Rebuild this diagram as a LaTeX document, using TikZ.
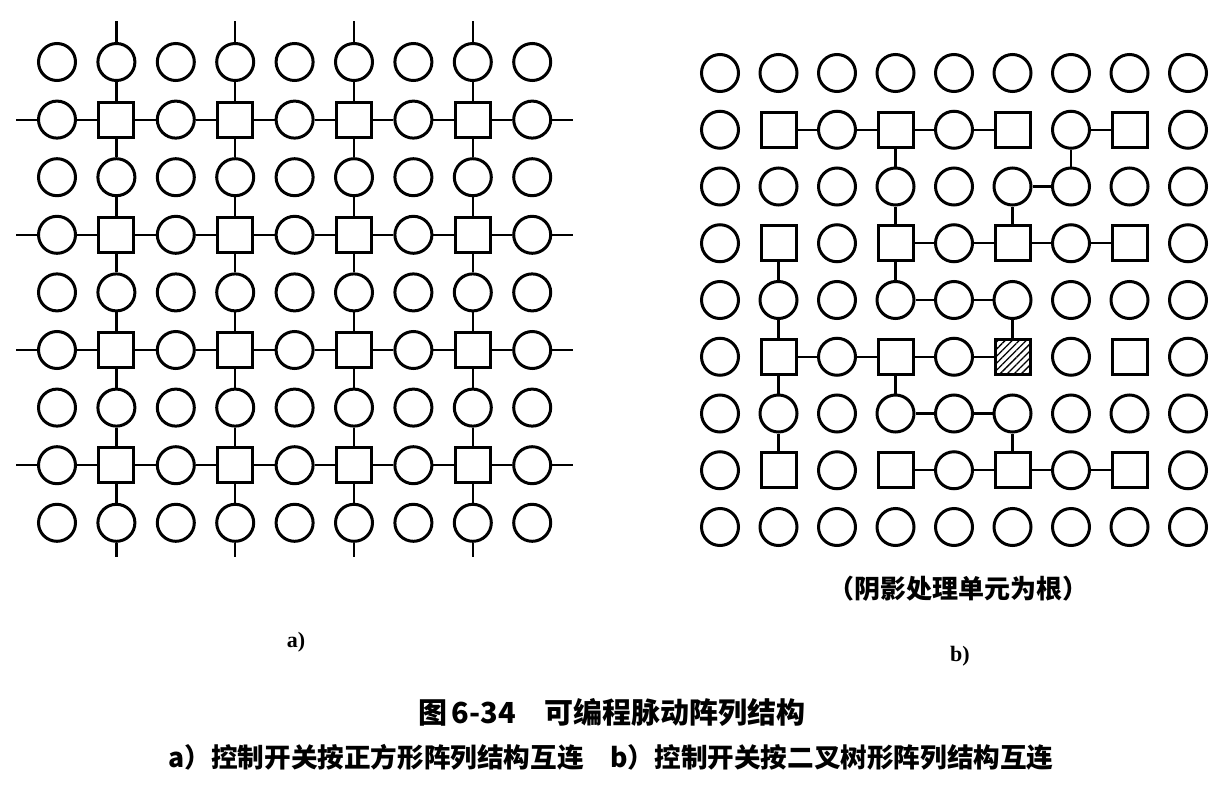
\documentclass[tikz,border=0pt]{standalone}
\usepackage{fontspec}
\newfontfamily\cjk{Noto Sans CJK SC}
\newfontfamily\lat{Liberation Serif}
\usetikzlibrary{patterns.meta}

\tikzset{
	pe/.style={draw, circle, line width=3pt, minimum size=37pt, inner sep=0pt},
	sw/.style={draw, rectangle, line width=3pt, minimum size=35pt, inner sep=0pt},
	root/.style={sw, pattern={Lines[angle=45,distance=5pt,line width=1.3pt]}},
	wire/.style={line width=2.2pt},
}

\begin{document}
\begin{tikzpicture}[x=1pt,y=-1pt]
	\useasboundingbox (0,0) rectangle (1232,787);
	% a) square array
	\foreach \r in {0,...,8}{
		\foreach \c in {0,...,8}{
			\pgfmathtruncatemacro{\t}{mod(\r,2)*mod(\c,2)}
			\ifnum\t=1
				\node (A-\r-\c) at ({57+59.4*\c},{62+57.6*\r}) [sw] {};
			\else
				\node (A-\r-\c) at ({57+59.4*\c},{62+57.6*\r}) [pe] {};
			\fi
		}
	}
	\foreach \k in {1,3,5,7}{
		\coordinate (Aw\k) at ([xshift=-21pt]A-\k-0.west);
		\coordinate (Ae\k) at ([xshift=21pt]A-\k-8.east);
		\coordinate (An\k) at ([yshift=21pt]A-0-\k.north);
		\coordinate (As\k) at ([yshift=-14pt]A-8-\k.south);
		\draw[wire] (Aw\k) -- (A-\k-0) (A-\k-8) -- (Ae\k);
		\draw[wire] (An\k) -- (A-0-\k) (A-8-\k) -- (As\k);
		\foreach \i [evaluate=\i as \j using int(\i+1)] in {0,...,7}{
			\draw[wire] (A-\k-\i) -- (A-\k-\j);
			\draw[wire] (A-\i-\k) -- (A-\j-\k);
		}
	}
	% b) binary tree
	\foreach \r in {0,...,8}{
		\foreach \c in {0,...,8}{
			\pgfmathtruncatemacro{\t}{mod(\r,2)*mod(\c,2)}
			\ifnum\t=1
				\node (B-\r-\c) at ({720+58.5*\c},{73+56.75*\r}) [sw] {};
			\else
				\node (B-\r-\c) at ({720+58.5*\c},{73+56.75*\r}) [pe] {};
			\fi
		}
	}
	\node (B-5-5) at ({720+58.5*5},{73+56.75*5}) [root] {};
	\foreach \u/\v in {1-1/1-2, 1-2/1-3, 1-3/1-4, 1-4/1-5, 1-6/1-7, 2-5/2-6,
		3-3/3-4, 3-4/3-5, 3-5/3-6, 3-6/3-7, 4-3/4-4, 4-4/4-5,
		5-1/5-2, 5-2/5-3, 5-3/5-4, 5-4/5-5, 6-3/6-4, 6-4/6-5,
		7-3/7-4, 7-4/7-5, 7-5/7-6, 7-6/7-7,
		1-3/2-3, 1-6/2-6, 2-3/3-3, 2-5/3-5, 3-1/4-1, 3-3/4-3,
		4-1/5-1, 4-5/5-5, 5-1/6-1, 5-3/6-3, 6-1/7-1, 6-5/7-5}
		\draw[wire] (B-\u) -- (B-\v);
	% labels
	\node (note) at (958,589) {\cjk\bfseries\fontsize{26}{30}\selectfont （阴影处理单元为根）};
	\node (la) at (296,642) {\lat\bfseries\fontsize{22}{26}\selectfont a)};
	\node (lb) at (960,656) {\lat\bfseries\fontsize{22}{26}\selectfont b)};
	\node (title) at (612,712) {\cjk\bfseries\fontsize{29}{34}\selectfont 图\,6-34\quad 可编程脉动阵列结构};
	\node (sub) at (611,757) {\cjk\bfseries\fontsize{26.6}{30}\selectfont a）控制开关按正方形阵列结构互连\quad b）控制开关按二叉树形阵列结构互连};
\end{tikzpicture}
\end{document}
